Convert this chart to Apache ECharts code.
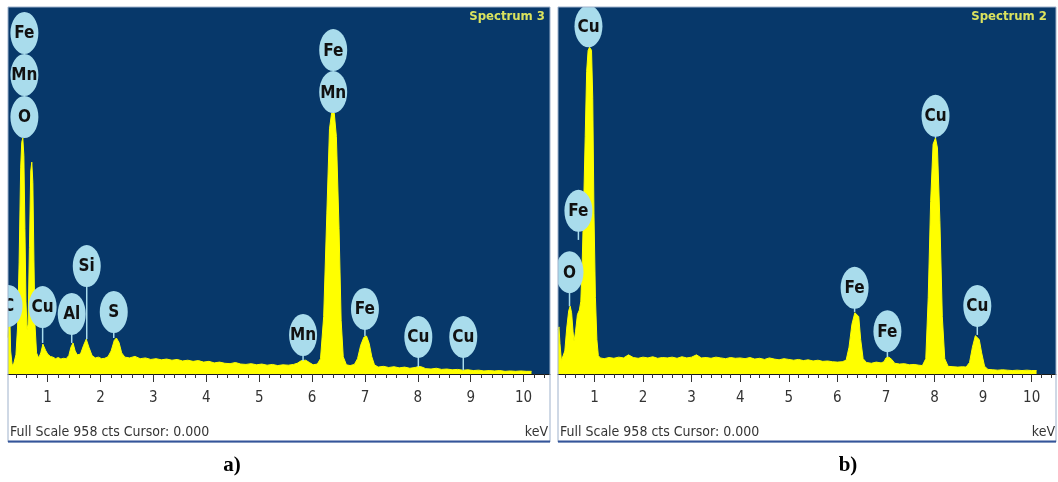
<!DOCTYPE html>
<html><head><meta charset="utf-8">
<script src="https://cdn.jsdelivr.net/npm/echarts@6/dist/echarts.min.js"></script>
<style>html,body{margin:0;padding:0;background:#fff}#c{width:1058px;height:482px}</style>
</head><body><div id="c"></div>
<script>
// ---------- data ----------
const tickValues = [1,2,3,4,5,6,7,8,9,10];
const tickLabels = ['1','2','3','4','5','6','7','8','9','10'];
const fullScale = 958;

// Spectrum 3 (panel a): [keV, counts]
const spectrumA = [
[0.25,95],[0.27,140],[0.285,146],[0.30,60],[0.33,22],[0.36,28],[0.40,50],[0.43,120],[0.46,290],[0.49,540],
[0.51,605],[0.53,616],[0.55,570],[0.57,380],[0.59,190],[0.61,115],[0.63,130],[0.655,330],[0.68,530],[0.70,553],
[0.72,500],[0.74,300],[0.76,130],[0.79,55],[0.83,42],[0.87,55],[0.91,78],[0.93,81],[0.96,62],[1.00,52],
[1.05,46],[1.10,44],[1.15,40],[1.20,43],[1.25,39],[1.30,41],[1.35,40],[1.40,48],[1.44,70],[1.48,81],
[1.52,60],[1.56,50],[1.62,52],[1.68,75],[1.73,91],[1.78,70],[1.84,48],[1.90,42],[1.96,44],[2.02,40],
[2.08,41],[2.14,45],[2.20,60],[2.26,88],[2.30,94],[2.35,82],[2.40,55],[2.46,44],[2.55,42],[2.65,46],
[2.75,40],[2.85,42],[2.95,38],[3.05,40],[3.15,37],[3.25,39],[3.35,36],[3.45,38],[3.55,34],[3.65,36],
[3.75,33],[3.85,35],[3.95,31],[4.05,33],[4.15,29],[4.25,31],[4.35,28],[4.45,27],[4.55,30],[4.65,26],
[4.75,25],[4.85,27],[4.95,24],[5.05,26],[5.15,23],[5.25,25],[5.35,22],[5.45,24],[5.55,23],[5.65,25],
[5.72,28],[5.80,35],[5.88,36],[5.95,30],[6.02,24],[6.10,26],[6.16,40],[6.22,150],[6.28,420],[6.33,640],
[6.37,681],[6.42,681],[6.46,620],[6.51,380],[6.55,140],[6.59,45],[6.65,24],[6.72,22],[6.80,25],[6.86,40],
[6.92,75],[6.98,96],[7.03,99],[7.08,80],[7.13,45],[7.18,24],[7.25,18],[7.35,20],[7.45,17],[7.55,19],
[7.65,16],[7.75,18],[7.85,15],[7.95,17],[8.02,20],[8.08,18],[8.15,14],[8.25,13],[8.35,15],[8.45,12],
[8.55,13],[8.65,11],[8.75,12],[8.85,10],[8.95,11],[9.05,9],[9.15,10],[9.25,8],[9.35,9],[9.45,8],
[9.55,9],[9.65,7],[9.75,8],[9.85,7],[9.95,8],[10.05,7],[10.15,7]
];

// Spectrum 2 (panel b): [keV, counts]
const spectrumB = [
[0.25,115],[0.27,123],[0.29,80],[0.32,35],[0.35,30],[0.39,60],[0.43,120],[0.47,165],[0.50,177],[0.53,160],
[0.56,110],[0.58,85],[0.61,110],[0.65,155],[0.69,167],[0.72,190],[0.75,300],[0.78,450],[0.81,620],[0.84,790],
[0.87,845],[0.90,853],[0.94,845],[0.965,720],[0.99,420],[1.02,200],[1.05,90],[1.08,48],[1.12,42],[1.20,40],
[1.30,43],[1.40,41],[1.50,44],[1.60,42],[1.70,50],[1.80,43],[1.90,41],[2.00,44],[2.10,42],[2.20,45],
[2.30,41],[2.40,43],[2.50,42],[2.60,44],[2.70,41],[2.80,45],[2.90,42],[3.00,44],[3.10,50],[3.20,42],
[3.30,43],[3.40,41],[3.50,44],[3.60,42],[3.70,40],[3.80,43],[3.90,41],[4.00,42],[4.10,40],[4.20,43],
[4.30,39],[4.40,41],[4.50,38],[4.60,42],[4.70,39],[4.80,37],[4.90,40],[5.00,38],[5.10,36],[5.20,38],
[5.30,35],[5.40,37],[5.50,34],[5.60,36],[5.70,33],[5.80,34],[5.90,32],[6.00,31],[6.10,32],[6.18,36],
[6.24,70],[6.30,130],[6.36,160],[6.40,162],[6.44,150],[6.48,90],[6.53,40],[6.60,30],[6.70,28],[6.80,31],
[6.90,29],[6.96,32],[7.00,42],[7.06,44],[7.12,38],[7.18,28],[7.28,26],[7.38,27],[7.48,24],[7.58,25],
[7.68,23],[7.75,22],[7.82,40],[7.87,200],[7.92,450],[7.97,600],[8.02,616],[8.06,590],[8.11,400],[8.16,150],
[8.21,40],[8.28,20],[8.38,19],[8.48,18],[8.58,19],[8.65,18],[8.72,30],[8.78,70],[8.84,100],[8.88,102],
[8.92,90],[8.97,55],[9.03,20],[9.10,12],[9.20,11],[9.30,10],[9.40,11],[9.50,10],[9.60,9],[9.70,10],
[9.80,9],[9.90,10],[10.00,9],[10.10,9]
];

// Element labels: name, energy (keV), peak counts (line tip), label bottom counts, stack level
const labelNamesA  = ['C','O','Mn','Fe','Cu','Al','Si','S','Mn','Mn','Fe','Fe','Cu','Cu'];
const labelEnergyA = [0.26,0.56,0.56,0.56,0.905,1.455,1.739,2.25,5.83,6.40,6.40,7.00,8.01,8.86];
const labelTipA    = [146,616,616,616,81,81,91,94,34,681,681,99,18,10];
const labelBottomA = [123,616,616,616,120,102,227,107,47,681,681,115,42,42];
const labelLevelA  = [0,0,1,2,0,0,0,0,0,0,1,0,0,0];

const labelNamesB  = ['O','Fe','Cu','Fe','Fe','Cu','Cu'];
const labelEnergyB = [0.487,0.67,0.877,6.355,7.03,8.02,8.88];
const labelTipB    = [177,350,853,162,44,616,102];
const labelBottomB = [211,371,853,170,57,619,123];
const labelLevelB  = [0,0,0,0,0,0,0];

// ---------- chart ----------
const minorTicks = [];
for (let i = 2; i <= 52; i++) { if (i % 5 !== 0) minorTicks.push(i / 5); }

const narrow = "'Liberation Sans Narrow','DejaVu Sans Condensed','Liberation Sans',Arial,sans-serif";
const BLUE = '#07386a', YEL = '#ffff00', BUBBLE = '#a9dcec';

function mainX(gi){
  return {type:'value', gridIndex:gi, min:0.25, max:10.5, position:'bottom',
    axisLine:{show:true, onZero:false, lineStyle:{color:'#1a1a1a', width:1}},
    axisTick:{show:true, customValues:tickValues, length:8, lineStyle:{color:'#333'}},
    axisLabel:{show:true, customValues:tickValues, margin:17, fontSize:15, color:'#333', fontFamily:narrow,
      formatter:v=>tickLabels[tickValues.indexOf(Math.round(v))] || ''},
    splitLine:{show:false}};
}
function minorX(gi){
  return {type:'value', gridIndex:gi, min:0.25, max:10.5, position:'bottom',
    axisLine:{show:false, onZero:false},
    axisTick:{show:true, customValues:minorTicks, length:4, lineStyle:{color:'#333'}},
    axisLabel:{show:false}, splitLine:{show:false}};
}
function yAx(gi){
  return {type:'value', gridIndex:gi, min:0, max:fullScale, show:false, splitLine:{show:false}};
}
function spec(data, xi, yi){
  return {type:'line', xAxisIndex:xi, yAxisIndex:yi, data:data, showSymbol:false, symbol:'none',
    lineStyle:{color:YEL, width:1}, areaStyle:{color:YEL, opacity:1}, clip:true, z:2, silent:true};
}
function labels(names, en, tip, bot, lvl, xi, yi){
  const data = en.map((e,i)=>[e, tip[i], bot[i], lvl[i]]);
  return {type:'custom', xAxisIndex:xi, yAxisIndex:yi, data:data, clip:true, z:5, silent:true,
    renderItem:function(params, api){
      const e=api.value(0), t=api.value(1), b=api.value(2), l=api.value(3);
      const pT=api.coord([e,t]), pB=api.coord([e,b]);
      const W=28, H=42;
      const cx=pB[0], bottomY=pB[1]-l*H, cy=bottomY-H/2;
      const ch=[];
      if (l===0 && pT[1]-bottomY>0.5){
        ch.push({type:'line', shape:{x1:cx,y1:bottomY-1,x2:cx,y2:pT[1]}, style:{stroke:BUBBLE, lineWidth:1.5}});
      }
      ch.push({type:'path', shape:{pathData:'M0,21A14,21 0 1,1 28,21A14,21 0 1,1 0,21Z', x:cx-W/2, y:cy-H/2, width:W, height:H, layout:'cover'},
        style:{fill:BUBBLE, stroke:null}});
      ch.push({type:'text', style:{text:names[params.dataIndex], x:cx, y:cy+1, align:'center', verticalAlign:'middle',
        fill:'#111', font:"bold 17px "+narrow}});
      return {type:'group', children:ch};
    }};
}

const chart = echarts.init(document.getElementById('c'), null, {renderer:'canvas'});
chart.setOption({
  animation:false,
  backgroundColor:'#ffffff',
  grid:[
    {left:8, top:7, width:542, height:367, show:true, backgroundColor:BLUE, borderWidth:0},
    {left:558, top:7, width:498, height:367, show:true, backgroundColor:BLUE, borderWidth:0}
  ],
  xAxis:[mainX(0), minorX(0), mainX(1), minorX(1)],
  yAxis:[yAx(0), yAx(1)],
  series:[
    spec(spectrumA, 0, 0),
    spec(spectrumB, 2, 1),
    labels(labelNamesA, labelEnergyA, labelTipA, labelBottomA, labelLevelA, 0, 0),
    labels(labelNamesB, labelEnergyB, labelTipB, labelBottomB, labelLevelB, 2, 1)
  ],
  graphic:[
    {type:'rect', shape:{x:8, y:7, width:542, height:435}, style:{fill:null, stroke:'#9fb2cc', lineWidth:1}, z:10},
    {type:'rect', shape:{x:558, y:7, width:498, height:435}, style:{fill:null, stroke:'#9fb2cc', lineWidth:1}, z:10},
    {type:'line', shape:{x1:8, y1:441.5, x2:550, y2:441.5}, style:{stroke:'#34559a', lineWidth:2}, z:10},
    {type:'line', shape:{x1:558, y1:441.5, x2:1056, y2:441.5}, style:{stroke:'#34559a', lineWidth:2}, z:10},
    {type:'text', style:{text:'Spectrum 3', x:545, y:17, align:'right', verticalAlign:'middle', fill:'#dbe35e', font:"bold 13px "+narrow}, z:10},
    {type:'text', style:{text:'Spectrum 2', x:1047, y:17, align:'right', verticalAlign:'middle', fill:'#dbe35e', font:"bold 13px "+narrow}, z:10},
    {type:'text', style:{text:'Full Scale 958 cts Cursor: 0.000', x:10, y:432, align:'left', verticalAlign:'middle', fill:'#333', font:"14px "+narrow}, z:10},
    {type:'text', style:{text:'Full Scale 958 cts Cursor: 0.000', x:560, y:432, align:'left', verticalAlign:'middle', fill:'#333', font:"14px "+narrow}, z:10},
    {type:'text', style:{text:'keV', x:548, y:432, align:'right', verticalAlign:'middle', fill:'#333', font:"14px "+narrow}, z:10},
    {type:'text', style:{text:'keV', x:1055, y:432, align:'right', verticalAlign:'middle', fill:'#333', font:"14px "+narrow}, z:10},
    {type:'text', style:{text:'a)', x:232, y:466, align:'center', verticalAlign:'middle', fill:'#000', font:"bold 21px 'Liberation Serif','DejaVu Serif',serif"}, z:10},
    {type:'text', style:{text:'b)', x:848, y:466, align:'center', verticalAlign:'middle', fill:'#000', font:"bold 21px 'Liberation Serif','DejaVu Serif',serif"}, z:10}
  ]
});
</script></body></html>
